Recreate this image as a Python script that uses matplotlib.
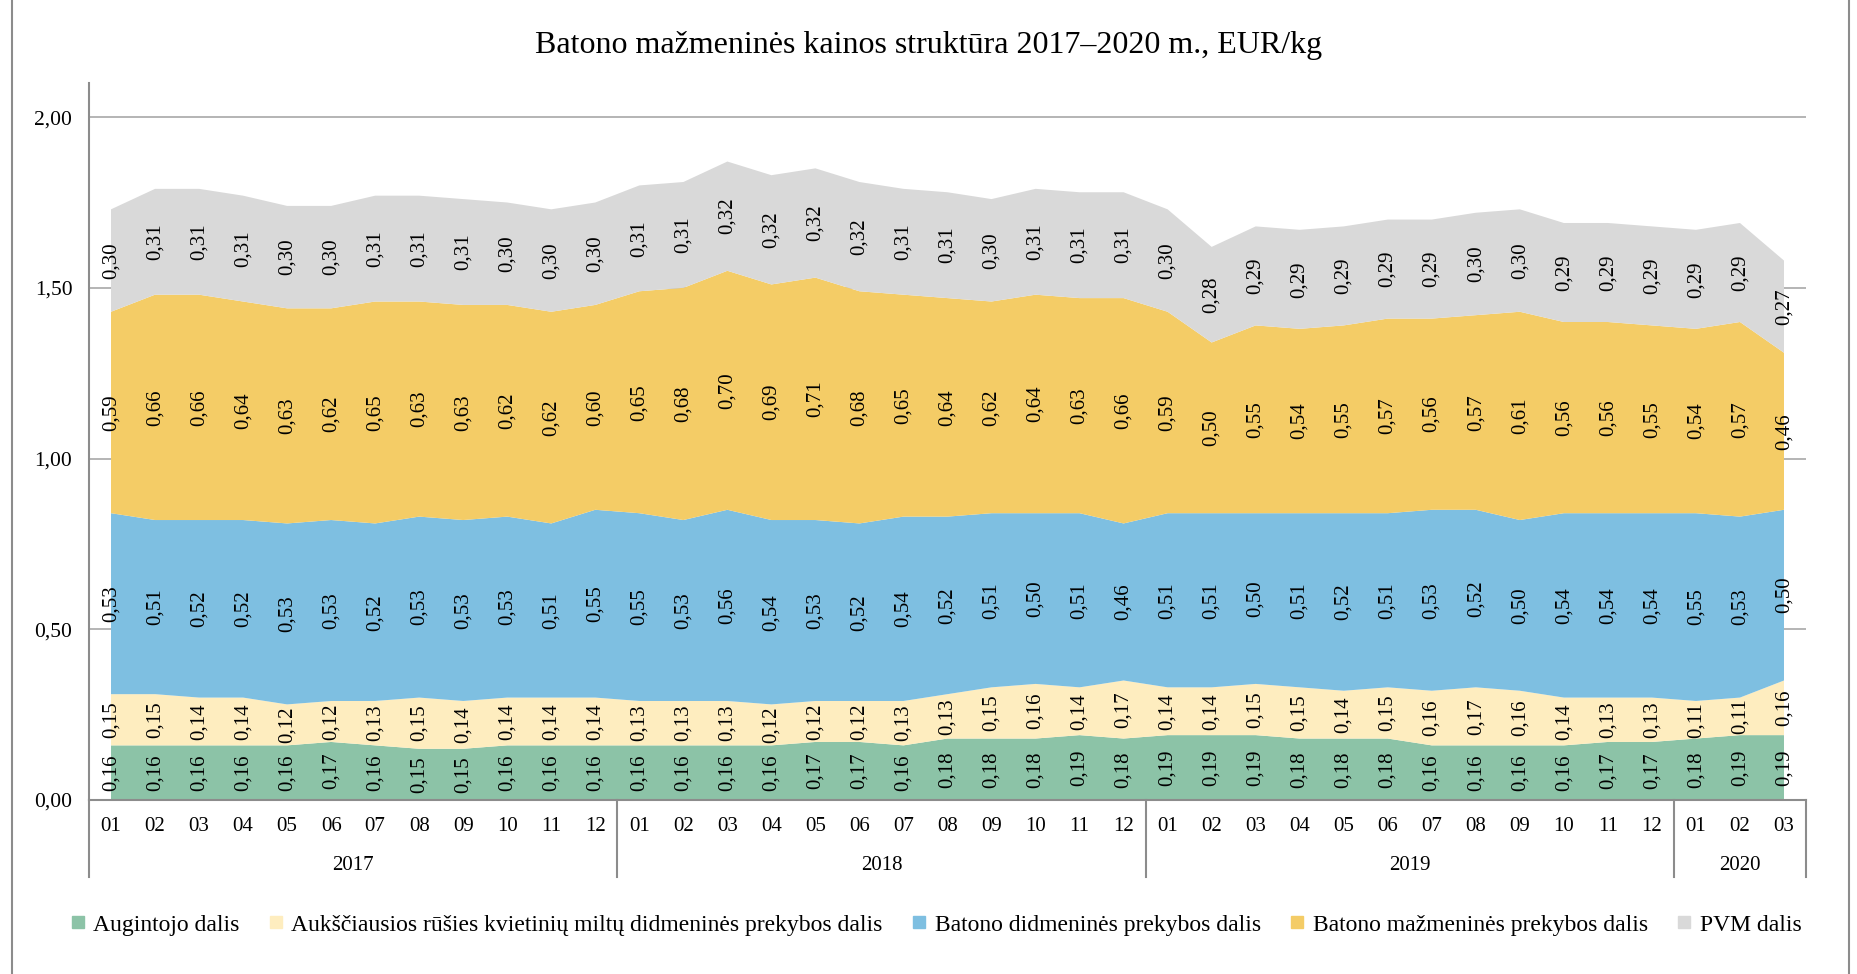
import numpy as np
import matplotlib
matplotlib.use('Agg')
import matplotlib.pyplot as plt
from matplotlib.lines import Line2D
from matplotlib import transforms as mtransforms

plt.rcParams['font.family'] = ['Liberation Serif', 'DejaVu Serif']

# kategorijos: menesiai ir metai
years = ['2017', '2018', '2019', '2020']
months_per_year = [12, 12, 12, 3]
month_labels = ['%02d' % (m + 1) for n in months_per_year for m in range(n)]

# EUR/kg dalys
augintojo = [0.16, 0.16, 0.16, 0.16, 0.16, 0.17, 0.16, 0.15, 0.15, 0.16, 0.16, 0.16,
             0.16, 0.16, 0.16, 0.16, 0.17, 0.17, 0.16, 0.18, 0.18, 0.18, 0.19, 0.18,
             0.19, 0.19, 0.19, 0.18, 0.18, 0.18, 0.16, 0.16, 0.16, 0.16, 0.17, 0.17,
             0.18, 0.19, 0.19]
miltu = [0.15, 0.15, 0.14, 0.14, 0.12, 0.12, 0.13, 0.15, 0.14, 0.14, 0.14, 0.14,
         0.13, 0.13, 0.13, 0.12, 0.12, 0.12, 0.13, 0.13, 0.15, 0.16, 0.14, 0.17,
         0.14, 0.14, 0.15, 0.15, 0.14, 0.15, 0.16, 0.17, 0.16, 0.14, 0.13, 0.13,
         0.11, 0.11, 0.16]
didmenine = [0.53, 0.51, 0.52, 0.52, 0.53, 0.53, 0.52, 0.53, 0.53, 0.53, 0.51, 0.55,
             0.55, 0.53, 0.56, 0.54, 0.53, 0.52, 0.54, 0.52, 0.51, 0.50, 0.51, 0.46,
             0.51, 0.51, 0.50, 0.51, 0.52, 0.51, 0.53, 0.52, 0.50, 0.54, 0.54, 0.54,
             0.55, 0.53, 0.50]
mazmenine = [0.59, 0.66, 0.66, 0.64, 0.63, 0.62, 0.65, 0.63, 0.63, 0.62, 0.62, 0.60,
             0.65, 0.68, 0.70, 0.69, 0.71, 0.68, 0.65, 0.64, 0.62, 0.64, 0.63, 0.66,
             0.59, 0.50, 0.55, 0.54, 0.55, 0.57, 0.56, 0.57, 0.61, 0.56, 0.56, 0.55,
             0.54, 0.57, 0.46]
pvm = [0.30, 0.31, 0.31, 0.31, 0.30, 0.30, 0.31, 0.31, 0.31, 0.30, 0.30, 0.30,
       0.31, 0.31, 0.32, 0.32, 0.32, 0.32, 0.31, 0.31, 0.30, 0.31, 0.31, 0.31,
       0.30, 0.28, 0.29, 0.29, 0.29, 0.29, 0.29, 0.30, 0.30, 0.29, 0.29, 0.29,
       0.29, 0.29, 0.27]

names = ['Augintojo dalis',
         'Aukščiausios rūšies kvietinių miltų didmeninės prekybos dalis',
         'Batono didmeninės prekybos dalis',
         'Batono mažmeninės prekybos dalis',
         'PVM dalis']
colors = ['#8cc3a7', '#feedbf', '#7ebfe1', '#f4cc66', '#d9d9d9']
series = [augintojo, miltu, didmenine, mazmenine, pvm]

W, H = 1857, 974
fig = plt.figure(figsize=(W / 100, H / 100), dpi=100)
ax_left, ax_right, ax_bottom, ax_top = 89, 1806, 800, 83
ax = fig.add_axes([ax_left / W, 1 - ax_bottom / H,
                   (ax_right - ax_left) / W, (ax_bottom - ax_top) / H])

x = np.arange(len(month_labels))
ax.stackplot(x, *series, colors=colors, linewidth=0)

ax.set_xlim(-0.5, len(x) - 0.5)
ax.set_ylim(0, 2.1)
ax.set_yticks(np.arange(0, 2.01, 0.5))
ax.set_yticklabels([('%.2f' % v).replace('.', ',') for v in np.arange(0, 2.01, 0.5)])
ax.set_axisbelow(True)
ax.grid(axis='y', color='#a0a0a0', lw=1.1)
ax.tick_params(axis='y', length=0, pad=12, labelsize=15.5)

ax.set_xticks(x)
ax.set_xticklabels(month_labels)
ax.tick_params(axis='x', length=0, pad=12, labelsize=15)

for s in ['top', 'right']:
    ax.spines[s].set_visible(False)
for s in ['left', 'bottom']:
    ax.spines[s].set_color('#8c8c8c')
    ax.spines[s].set_linewidth(1.5)

# reiksmiu etiketes - kiekvienos juostos viduryje
bottom = np.zeros(len(x))
for vals in series:
    vals = np.array(vals)
    for i, v in enumerate(vals):
        ax.text(i, bottom[i] + v / 2, ('%.2f' % v).replace('.', ','),
                rotation=90, ha='center', va='center', fontsize=15, color='black')
    bottom += vals

# metu grupes po menesiais
trans = mtransforms.blended_transform_factory(ax.transData, ax.transAxes)
ax_h = ax_bottom - ax_top
edges = np.concatenate([[0], np.cumsum(months_per_year)]) - 0.5
for e in edges:
    ax.plot([e, e], [0, -77 / ax_h], transform=trans, color='#8c8c8c', lw=1.5, clip_on=False)
for k, yr in enumerate(years):
    ax.text((edges[k] + edges[k + 1]) / 2, -65 / ax_h, yr, transform=trans,
            ha='center', va='center', fontsize=15)

fig.text(0.5, 1 - 45 / H, 'Batono mažmeninės kainos struktūra 2017–2020 m., EUR/kg',
         ha='center', va='center', fontsize=23)

handles = [Line2D([], [], ls='none', marker='s', markersize=8, color=c) for c in colors]
fig.legend(handles, names, loc='center', bbox_to_anchor=(936 / W, 1 - 925 / H), ncol=5,
           frameon=False, fontsize=17, handlelength=0.6, handletextpad=0.35,
           columnspacing=1.25, borderaxespad=0)

# ramelis aplink grafika
for xb in [12, 1849]:
    fig.add_artist(Line2D([xb / W, xb / W], [0, 1], color='#8c8c8c', lw=1.5))

fig.savefig('out.png', dpi=100)
